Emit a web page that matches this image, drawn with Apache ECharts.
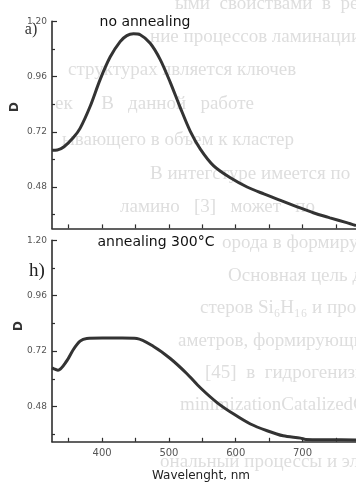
<!DOCTYPE html>
<html>
<head>
<meta charset="utf-8">
<script src="https://cdn.jsdelivr.net/npm/echarts@6/dist/echarts.min.js"></script>
<style>
  html, body { margin: 0; padding: 0; background: #fff; }
  #chart { width: 356px; height: 483px; }
</style>
</head>
<body>
<div id="chart"></div>
<script>
// ---- data ----
var lambdaNoAnneal = [325, 333, 343, 357, 367, 382, 397, 412, 427, 437, 447, 457, 472, 487, 502, 517, 532, 547, 567, 592, 617, 642, 667, 692, 716, 741, 766, 780];
var dNoAnneal      = [0.640, 0.641, 0.655, 0.695, 0.735, 0.830, 0.947, 1.045, 1.112, 1.138, 1.146, 1.142, 1.105, 1.034, 0.935, 0.825, 0.722, 0.645, 0.572, 0.520, 0.480, 0.450, 0.422, 0.394, 0.368, 0.346, 0.325, 0.312];

var lambdaAnneal300 = [325, 334, 347, 357, 367, 377, 400, 430, 452, 477, 502, 527, 547, 572, 597, 622, 647, 671, 697, 705, 740, 780];
var dAnneal300      = [0.647, 0.637, 0.677, 0.727, 0.763, 0.775, 0.777, 0.777, 0.775, 0.740, 0.688, 0.622, 0.561, 0.497, 0.447, 0.404, 0.375, 0.353, 0.343, 0.337, 0.336, 0.335];

var xMajorTicks = [400, 500, 600, 700];
var xAllTicks   = [350, 400, 450, 500, 550, 600, 650, 700, 750];
var yMajorTicks = [0.48, 0.72, 0.96, 1.20];
var yMinorTicks = [0.36, 0.60, 0.84, 1.08];

var titleTop = "no annealing";
var titleBottom = "annealing 300°C";
var xName = "Wavelenght, nm";
var yName = "D";

// faint bleed-through text of the scanned page
var bgLines = [
  [175, 4,   "ыми  свойствами  в  ремон"],
  [150, 37,  "ние процессов ламинации"],
  [68,  70,  "структурах является ключев"],
  [55,  104, "ек      В   данной   работе"],
  [62,  140, "ывающего в объем к кластер"],
  [150, 174, "В интегстуре имеется по"],
  [120, 207, "ламино   [3]   может   по"],
  [222, 243, "орода в формирующихся"],
  [228, 276, "Основная цель данной"],
  [200, 308, "стеров Si₆H₁₆ и процесс"],
  [178, 341, "аметров, формирующих"],
  [205, 373, "[45]  в  гидрогенизиров"],
  [180, 405, "minimizationCatalizedChemi"],
  [160, 462, "ональный процессы и электрон"]
];

function pairs(xs, ys) { return xs.map(function (x, i) { return [x, ys[i]]; }); }

var axisColor = '#2e2e2e';
var FONT = '"DejaVu Sans", sans-serif';

function xAxisCfg(grid, showLabels) {
  return {
    type: 'value', gridIndex: grid, min: 325, max: 780,
    axisLine: { show: true, onZero: false, lineStyle: { color: axisColor, width: 1.6 } },
    axisTick: { show: true, inside: true, length: 4, customValues: xAllTicks, lineStyle: { color: axisColor, width: 1.2 } },
    axisLabel: { show: showLabels, customValues: xMajorTicks, color: '#555', fontSize: 10, fontFamily: FONT, margin: 7 },
    splitLine: { show: false }
  };
}
function yMainCfg(grid, min) {
  return {
    type: 'value', gridIndex: grid, min: min, max: 1.20, position: 'left',
    axisLine: { show: true, onZero: false, lineStyle: { color: axisColor, width: 1.6 } },
    axisTick: { show: true, inside: true, length: 5, customValues: yMajorTicks, lineStyle: { color: axisColor, width: 1.2 } },
    axisLabel: { show: true, customValues: yMajorTicks, color: '#555', fontSize: 9, fontFamily: FONT, margin: 5,
      formatter: function (v) { return v.toFixed(2); } },
    splitLine: { show: false }
  };
}
function yMinorCfg(grid, min) {
  return {
    type: 'value', gridIndex: grid, min: min, max: 1.20, position: 'left', offset: 0,
    axisLine: { show: false },
    axisTick: { show: true, inside: true, length: 3, customValues: yMinorTicks, lineStyle: { color: axisColor, width: 1.2 } },
    axisLabel: { show: false },
    splitLine: { show: false }
  };
}

var graphics = bgLines.map(function (l) {
  return { type: 'text', x: l[0], y: l[1], z: -10,
    style: { text: l[2], font: '19px "Liberation Serif", serif', fill: '#dedede',
      textVerticalAlign: 'middle', verticalAlign: 'middle' } };
});
graphics.push(
  { type: 'text', x: 145, y: 22, style: { text: titleTop, font: '14px ' + FONT, fill: '#111',
      textAlign: 'center', align: 'center', textVerticalAlign: 'middle', verticalAlign: 'middle' } },
  { type: 'text', x: 156, y: 242, style: { text: titleBottom, font: '14px ' + FONT, fill: '#111',
      textAlign: 'center', align: 'center', textVerticalAlign: 'middle', verticalAlign: 'middle' } },
  { type: 'text', x: 201, y: 476, style: { text: xName, font: '12px ' + FONT, fill: '#222',
      textAlign: 'center', align: 'center', textVerticalAlign: 'middle', verticalAlign: 'middle' } },
  { type: 'text', x: 15, y: 107, rotation: Math.PI / 2, style: { text: yName, font: 'bold 12px ' + FONT, fill: '#333',
      textAlign: 'center', align: 'center', textVerticalAlign: 'middle', verticalAlign: 'middle' } },
  { type: 'text', x: 19, y: 326, rotation: Math.PI / 2, style: { text: yName, font: 'bold 12px ' + FONT, fill: '#333',
      textAlign: 'center', align: 'center', textVerticalAlign: 'middle', verticalAlign: 'middle' } },
  { type: 'text', x: 31, y: 30, style: { text: 'a)', font: '16px "Liberation Serif", serif', fill: '#333',
      textAlign: 'center', align: 'center', textVerticalAlign: 'middle', verticalAlign: 'middle' } },
  { type: 'text', x: 37, y: 271, style: { text: 'h)', font: '19px "Liberation Serif", serif', fill: '#222',
      textAlign: 'center', align: 'center', textVerticalAlign: 'middle', verticalAlign: 'middle' } }
);

var chart = echarts.init(document.getElementById('chart'), null, { renderer: 'canvas' });
chart.setOption({
  animation: false,
  backgroundColor: '#ffffff',
  grid: [
    { left: 52, right: 0, top: 21.4, height: 207, containLabel: false },
    { left: 52, right: 0, top: 240.3, height: 201.5, containLabel: false }
  ],
  xAxis: [xAxisCfg(0, false), xAxisCfg(1, true)],
  yAxis: [yMainCfg(0, 0.30), yMinorCfg(0, 0.30), yMainCfg(1, 0.327), yMinorCfg(1, 0.327)],
  graphic: graphics,
  series: [
    { type: 'line', xAxisIndex: 0, yAxisIndex: 0, data: pairs(lambdaNoAnneal, dNoAnneal),
      smooth: 0.3, showSymbol: false, lineStyle: { color: '#333', width: 3 }, z: 5 },
    { type: 'line', xAxisIndex: 1, yAxisIndex: 2, data: pairs(lambdaAnneal300, dAnneal300),
      smooth: 0.3, showSymbol: false, lineStyle: { color: '#333', width: 3 }, z: 5 }
  ]
});
</script>
</body>
</html>
